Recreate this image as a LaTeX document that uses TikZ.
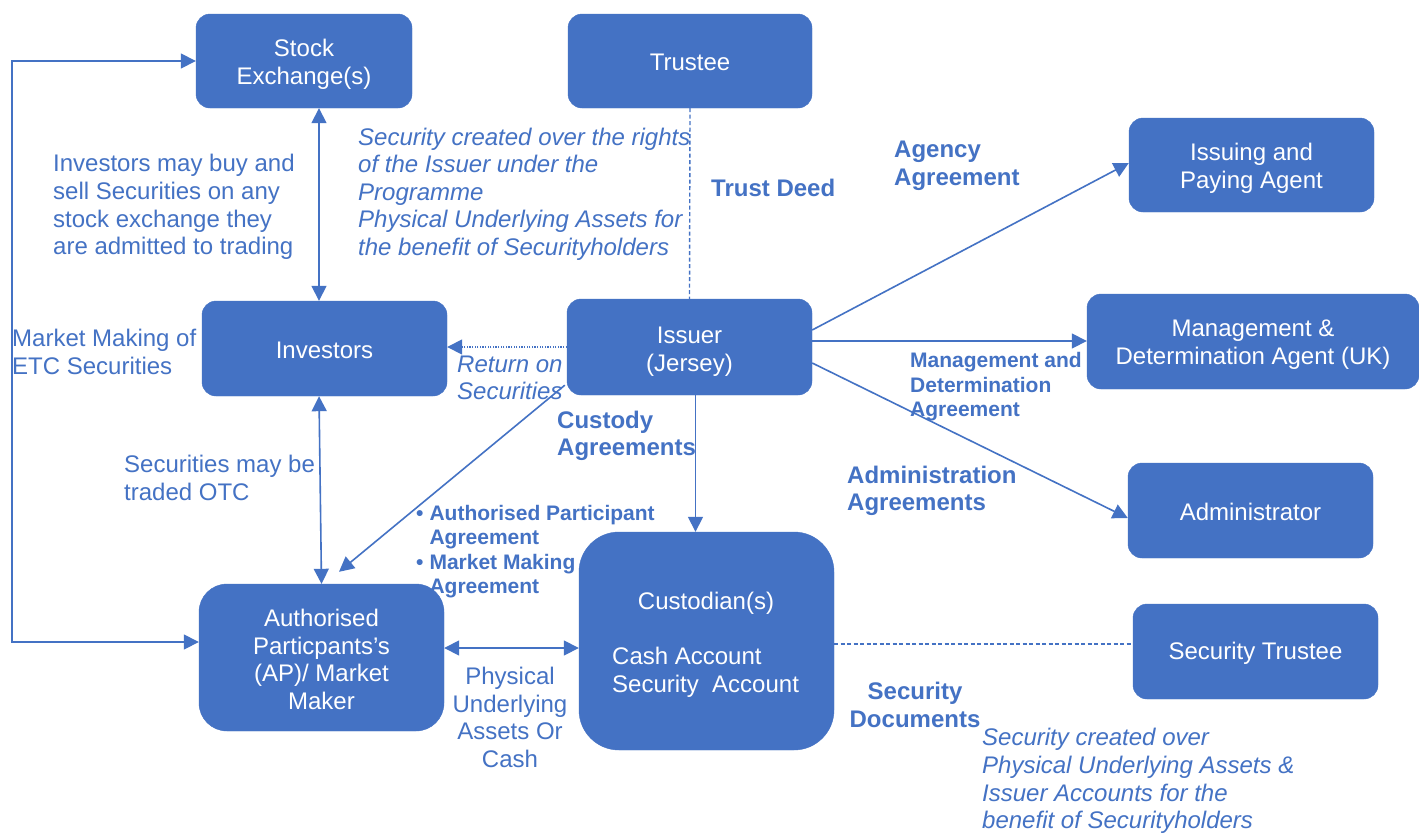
\documentclass[tikz,border=0pt]{standalone}
\usepackage{fontspec}
\setmainfont{Liberation Sans}
\usetikzlibrary{arrows.meta,calc}
\definecolor{ofblue}{HTML}{4472C4}
\begin{document}
\begin{tikzpicture}[x=1pt,y=-1pt,
  box/.style={fill=ofblue, draw=ofblue, rounded corners=14pt, inner sep=0pt},
  wtxt/.style={text=white, align=center, inner sep=0pt, font=\fontsize{24}{27.6}\selectfont},
  lbl/.style={text=ofblue, align=left, inner sep=0pt, font=\fontsize{24}{27.6}\selectfont},
  lbli/.style={lbl, font=\fontsize{24}{27.6}\selectfont\itshape},
  lblb/.style={lbl, font=\fontsize{24}{27.6}\selectfont\bfseries},
  lbls/.style={lbl, font=\fontsize{21}{24.5}\selectfont\bfseries},
  conn/.style={draw=ofblue, line width=1.6pt},
  tipend/.style={-{Triangle[length=15pt,width=15pt]}},
  tipboth/.style={{Triangle[length=15pt,width=15pt]}-{Triangle[length=15pt,width=15pt]}},
  dashln/.style={draw=ofblue, line width=1.4pt, dash pattern=on 4pt off 2.5pt},
  dotln/.style={draw=ofblue, line width=1.6pt, dash pattern=on 1.2pt off 1.4pt}
]
\fill[white] (0,0) rectangle (1419,833);
\useasboundingbox (0,0) rectangle (1419,833);

% boxes
\node[box, minimum width=216pt, minimum height=94pt] (se) at (304,61) {};
\node[wtxt] (se-t) at ([yshift=-3pt]se.center) {Stock\\Exchange(s)};
\node[box, minimum width=244pt, minimum height=94pt] (tr) at (690,61) {};
\node[wtxt] (tr-t) at ([yshift=-1pt]tr.center) {Trustee};
\node[box, minimum width=245pt, minimum height=94pt] (ipa) at (1251.5,165) {};
\node[wtxt] (ipa-t) at ([yshift=-3pt]ipa.center) {Issuing and\\Paying Agent};
\node[box, minimum width=332pt, minimum height=95pt] (mda) at (1253,341.5) {};
\node[wtxt] (mda-t) at ([yshift=-3pt]mda.center) {Management \&\\Determination Agent (UK)};
\node[box, minimum width=245pt, minimum height=95pt] (inv) at (324.5,348.5) {};
\node[wtxt] (inv-t) at ([yshift=-2pt]inv.center) {Investors};
\node[box, minimum width=245pt, minimum height=96pt] (iss) at (689.5,347) {};
\node[wtxt] (iss-t) at ([yshift=-5pt]iss.center) {Issuer\\(Jersey)};
\node[box, minimum width=245pt, minimum height=95pt] (adm) at (1250.5,510.5) {};
\node[wtxt] (adm-t) at ([yshift=-1pt]adm.center) {Administrator};
\node[box, rounded corners=28pt, minimum width=245pt, minimum height=147pt] (ap) at (321.5,657.5) {};
\node[wtxt] (ap-t) at ([yshift=-2pt]ap.center) {Authorised\\Particpants’s\\(AP)/ Market\\Maker};
\node[box, rounded corners=40pt, minimum width=255pt, minimum height=218pt] (cus) at (706.5,641) {};
\node[wtxt] (cust) at (706,603) {Custodian(s)};
\node[wtxt, align=left, anchor=west] (acc) at (612,672) {Cash Account\\Security\ \ Account};
\node[box, minimum width=245pt, minimum height=95pt] (st) at (1255.5,651.5) {};
\node[wtxt] (st-t) at ([yshift=-2pt]st.center) {Security Trustee};

% connectors
\coordinate (loop) at (12,61);
\draw[conn, tipboth] (se.west) -- (loop) |- ([yshift=15.5pt]ap.west);
\draw[conn, tipboth] ([xshift=15pt]se.south) -- ([xshift=-5.5pt]inv.north);
\draw[conn, tipboth] ([xshift=-5.5pt]inv.south) -- (ap.north);
\draw[dotln, tipend] (iss.west) -- (iss.west -| inv.east);
\draw[conn, tipend] ([xshift=-2pt,yshift=10pt]iss.south west) -- ([xshift=17.5pt,yshift=12pt]ap.north);
\draw[conn, tipend] ([xshift=6pt]iss.south) -- ([xshift=6pt]iss.south |- cus.north);
\draw[conn, tipend] ([yshift=17pt]iss.east) -- ([yshift=2pt]ipa.west);
\draw[conn, tipend] ([yshift=6pt]iss.east) -- ([yshift=6pt]iss.east -| mda.west);
\draw[conn, tipend] ([yshift=-16pt]iss.east) -- ([yshift=-7.5pt]adm.west);
\draw[conn, tipboth] ([yshift=9.5pt]ap.east) -- ([yshift=9.5pt]ap.east -| cus.west);
\draw[dashln] ([yshift=7.5pt]st.west -| cus.east) -- ([yshift=7.5pt]st.west);
\draw[dashln] (tr.south) -- (iss.north);

% labels
\node[lbl, anchor=west] (l1) at (53,207) {Investors may buy and\\sell Securities on any\\stock exchange they\\are admitted to trading};
\node[lbli, anchor=west] (l2) at (358,194) {Security created over the rights\\of the Issuer under the\\Programme\\Physical Underlying Assets for\\the benefit of Securityholders};
\node[lblb, anchor=west] (l3) at (711,188) {Trust Deed};
\node[lblb, anchor=west] (l4) at (894,166) {Agency\\Agreement};
\node[lbl, anchor=west] (l5) at (12,352) {Market Making of\\ETC Securities};
\node[lbli, anchor=west] (l6) at (457,378) {Return on\\Securities};
\node[lblb, anchor=west] (l7) at (557,436) {Custody\\Agreements};
\node[lbls, anchor=west] (l8) at (910,387) {Management and\\Determination\\Agreement};
\node[lblb, anchor=west] (l9) at (847,491) {Administration\\Agreements};
\node[lbl, anchor=west] (l10) at (124,478) {Securities may be\\traded OTC};
\node[lbls, anchor=west] (l11) at (416,552) {\begin{tabular}{@{}l@{\hspace{6pt}}l@{}}• & Authorised Participant\\ & Agreement\\• & Market Making\\ & Agreement\end{tabular}};
\node[lbl, align=center] (l12) at (510,717.5) {Physical\\Underlying\\Assets Or\\Cash};
\node[lblb, align=center] (l13) at (915,705) {Security\\Documents};
\node[lbli, anchor=west] (l14) at (982,781) {Security created over\\Physical Underlying Assets \&\\Issuer Accounts for the\\benefit of Securityholders};
\end{tikzpicture}
\end{document}
